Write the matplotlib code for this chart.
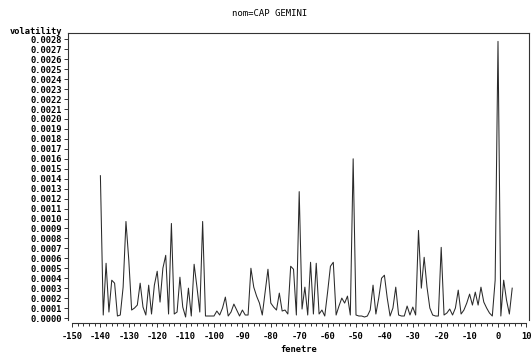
import numpy as np
import matplotlib
matplotlib.use("Agg")
import matplotlib.pyplot as plt
from matplotlib.ticker import FixedLocator

# event window (days) and volatility (units of 1e-4)
fenetre = np.arange(-140, 6)
vol_e4 = [
    14.3, 0.3, 5.5, 0.6, 3.8, 3.5, 0.2, 0.3, 3.1, 9.7,      # -140..-131
    5.8, 0.8, 1.0, 1.3, 3.5, 1.1, 0.3, 3.3, 0.4, 3.3,       # -130..-121
    4.7, 1.6, 5.0, 6.3, 0.4, 9.5, 0.4, 0.6, 4.1, 1.1,       # -120..-111
    0.1, 3.0, 0.2, 5.4, 3.1, 0.6, 9.7, 0.2, 0.2, 0.2,       # -110..-101
    0.2, 0.7, 0.3, 1.0, 2.1, 0.2, 0.6, 1.4, 0.8, 0.2,       # -100..-91
    0.8, 0.3, 0.3, 5.0, 3.1, 2.2, 1.5, 0.3, 2.6, 4.9,       # -90..-81
    1.5, 1.1, 0.8, 2.5, 0.7, 0.8, 0.4, 5.2, 4.9, 0.3,       # -80..-71
    12.7, 0.9, 3.1, 0.3, 5.6, 0.4, 5.5, 0.4, 0.8, 0.2,      # -70..-61
    2.6, 5.2, 5.6, 0.3, 1.2, 2.0, 1.5, 2.2, 0.3, 16.0,      # -60..-51
    0.3, 0.2, 0.2, 0.1, 0.2, 0.8, 3.3, 0.4, 2.0, 4.0,       # -50..-41
    4.3, 2.0, 0.2, 1.0, 3.1, 0.3, 0.2, 0.2, 1.2, 0.3,       # -40..-31
    1.1, 0.3, 8.8, 3.0, 6.1, 3.1, 1.0, 0.3, 0.2, 0.2,       # -30..-21
    7.1, 0.3, 0.5, 0.9, 0.3, 1.0, 2.8, 0.4, 0.8, 1.5,       # -20..-11
    2.4, 1.3, 2.6, 1.3, 3.1, 1.6, 1.0, 0.5, 0.2, 3.8,       # -10..-1
    27.8, 0.2, 3.8, 1.8, 0.4, 3.0,                          # 0..5
]
volatility = np.array(vol_e4) * 1e-4

x_ticks = list(range(-150, 11, 10))
y_ticks = [i * 0.0001 for i in range(0, 29)]

plt.rcParams["font.family"] = "DejaVu Sans Mono"
plt.rcParams["font.weight"] = "bold"
plt.rcParams["font.size"] = 6.3

W, H = 531, 363
fig = plt.figure(figsize=(W / 100, H / 100), dpi=100)
fig.patch.set_facecolor("white")

L, R, T, B = 68, 529, 33, 320
ax = fig.add_axes([L / W, 1 - B / H, (R - L) / W, (B - T) / H])

ax.plot(fenetre, volatility, color="#2a2a2a", lw=0.75)

# scales
px_per_unit = 2.84
x0_px = 498
ax.set_xlim((L - x0_px) / px_per_unit, (R - x0_px) / px_per_unit)
py0 = 318
py_per = 9.95e4
ax.set_ylim(-(B - py0) / py_per, (py0 - T) / py_per)

ax.xaxis.set_major_locator(FixedLocator(x_ticks))
ax.xaxis.set_minor_locator(FixedLocator([v for v in range(-150, 11, 2) if v % 10]))
ax.set_xticklabels([str(v) for v in x_ticks])
ax.yaxis.set_major_locator(FixedLocator(y_ticks))
ax.set_yticklabels([f"{v:.4f}" for v in y_ticks])
for lab in ax.get_xticklabels() + ax.get_yticklabels():
    lab.set_fontsize(6.3)
    lab.set_fontweight("bold")
    lab.set_family("DejaVu Sans Mono")

for s in ax.spines.values():
    s.set_color("#333333")
    s.set_linewidth(0.8)
ax.spines["bottom"].set_position(("outward", 2.2))
ax.spines["bottom"].set_bounds(-150, 10)

ax.tick_params(axis="x", which="major", direction="out", length=3, width=0.7,
               color="#333333", pad=3.5, labelsize=6.3)
ax.tick_params(axis="x", which="minor", direction="out", length=2.2, width=0.7,
               color="#333333")
ax.tick_params(axis="y", which="major", direction="out", length=3, width=0.7,
               color="#333333", pad=1.5, labelsize=6.3)

fig.text(270 / W, 1 - 13 / H, "nom=CAP GEMINI", ha="center", va="center",
         family="DejaVu Sans Mono", weight="normal", size=6.5)
fig.text(62 / W, 1 - 31 / H, "volatility", ha="right", va="center",
         family="DejaVu Sans Mono", weight="bold", size=6.3)
fig.text(298.5 / W, 1 - 349 / H, "fenetre", ha="center", va="center",
         family="DejaVu Sans Mono", weight="bold", size=6.3)

fig.savefig("out.png", dpi=100, facecolor="white")
